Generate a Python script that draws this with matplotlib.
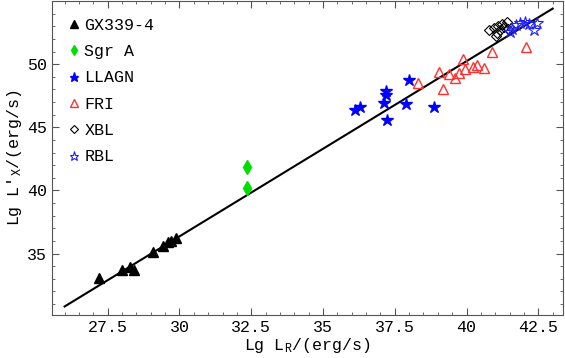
import numpy as np
import matplotlib
matplotlib.use('Agg')
import matplotlib.pyplot as plt

plt.rcParams['font.family'] = ['Liberation Mono', 'DejaVu Sans']
plt.rcParams['mathtext.fontset'] = 'custom'
plt.rcParams['mathtext.rm'] = 'Liberation Mono'
plt.rcParams['mathtext.it'] = 'Liberation Mono'

# GX339-4
gx_x = [27.21, 27.99, 28.28, 28.42, 29.09, 29.42, 29.61, 29.71, 29.88]
gx_y = [33.03, 33.69, 33.90, 33.69, 35.13, 35.60, 35.92, 36.00, 36.23]
# Sgr A
sgr_x = [32.34, 32.34]
sgr_y = [41.85, 40.20]
# LLAGN
ll_x = [36.12, 36.29, 37.19, 37.19, 37.14, 37.22, 37.89, 38.00, 38.88]
ll_y = [46.37, 46.57, 47.89, 47.58, 46.89, 45.58, 46.84, 48.74, 46.63]
# FRI
fr_x = [38.32, 39.05, 39.19, 39.40, 39.60, 39.74, 39.87, 39.95, 40.24, 40.36, 40.61, 40.88, 42.07]
fr_y = [48.53, 49.39, 48.07, 49.26, 48.94, 49.34, 50.39, 49.60, 49.79, 49.95, 49.73, 50.99, 51.37]
# XBL
xb_x = [40.79, 40.94, 41.05, 41.11, 41.17, 41.23, 41.32, 41.40, 41.44, 41.02]
xb_y = [52.71, 52.89, 52.50, 53.02, 52.71, 53.16, 52.97, 53.34, 52.76, 52.23]
# RBL
rb_x = [41.52, 41.60, 41.72, 41.87, 42.02, 42.16, 42.36, 42.45]
rb_y = [52.55, 52.81, 53.08, 53.24, 53.34, 53.16, 52.71, 53.29]

# fit line
fit_x = [26.0, 43.0]
fit_slope = 1.388
fit_icpt = -5.28

fig = plt.figure(figsize=(5.65, 3.58), dpi=100)
ax = fig.add_axes([0.092, 0.12, 0.905, 0.877])

fx = np.array(fit_x)
ax.plot(fx, fit_slope * fx + fit_icpt, color='black', lw=1.5, zorder=1)

ax.plot(gx_x, gx_y, '^', color='black', ms=7, ls='none', label='GX339-4')
ax.plot(sgr_x, sgr_y, 'd', color='#00e000', ms=7, ls='none', label='Sgr A')
ax.plot(ll_x, ll_y, '*', color='#0000ff', ms=9, ls='none', label='LLAGN')
ax.plot(fr_x, fr_y, '^', mfc='none', mec='#ff3030', mew=1.0, ms=7.5, ls='none', label='FRI')
ax.plot(xb_x, xb_y, 'D', mfc='none', mec='black', mew=0.8, ms=5.5, ls='none', label='XBL')
ax.plot(rb_x, rb_y, '*', mfc='none', mec='#2020ff', mew=0.8, ms=9, ls='none', label='RBL')

ax.set_xlim(25.56, 43.37)
ax.set_ylim(30.13, 55.0)
ax.set_xticks([27.5, 30, 32.5, 35, 37.5, 40, 42.5])
ax.set_xticklabels(['27.5', '30', '32.5', '35', '37.5', '40', '42.5'])
ax.set_yticks([35, 40, 45, 50])
ax.set_xticks(np.arange(26, 43.5, 0.5), minor=True)
ax.set_yticks(np.arange(31, 55, 1), minor=True)
ax.tick_params(which='both', direction='in', top=True, right=True, labelsize=12, color='#555555')
ax.tick_params(which='major', length=5)
ax.tick_params(which='minor', length=2.5)
for s in ax.spines.values():
    s.set_color('#555555')

ax.set_xlabel(r'Lg L$_{\rm R}$/(erg/s)', fontsize=12, labelpad=1)
ax.set_ylabel(r"Lg L'$_{\rm X}$/(erg/s)", fontsize=12, labelpad=2)

ax.legend(loc='upper left', bbox_to_anchor=(0.0, 1.0), frameon=False, fontsize=12,
          markerscale=0.75, handlelength=0.7, handletextpad=0.25, labelspacing=0.68,
          borderaxespad=0.5, borderpad=0.5)

fig.savefig('out.png', dpi=100)
